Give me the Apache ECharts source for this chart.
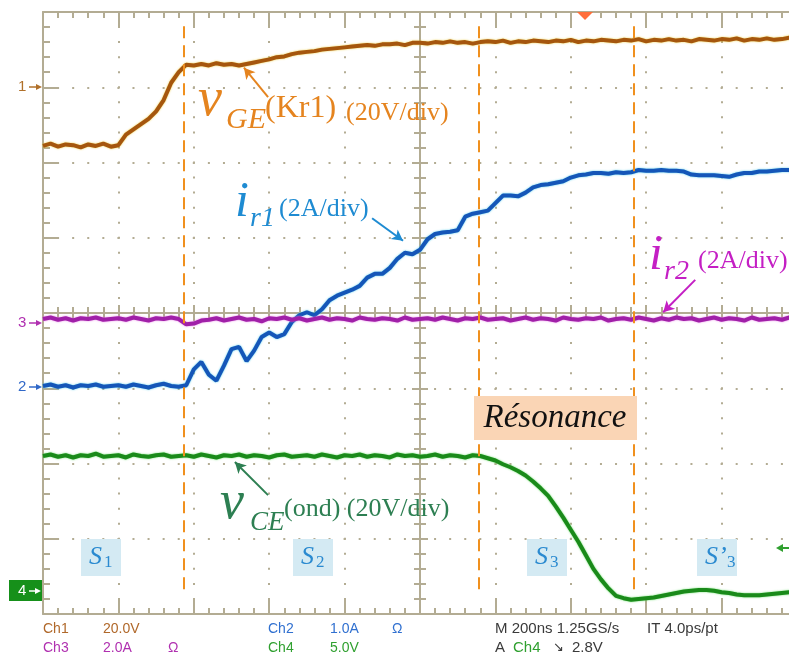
<!DOCTYPE html>
<html>
<head>
<meta charset="utf-8">
<script src="https://cdn.jsdelivr.net/npm/echarts@6/dist/echarts.min.js"></script>
<style>
html,body{margin:0;padding:0;background:#fff;}
#chart{width:789px;height:657px;}
</style>
</head>
<body>
<div id="chart"></div>
<script>
// Time base (ns, 200 ns/div, 0 = screen centre)
const timeNs = [
 -1000,-980,-960,-940,-920,-900,-880,-860,-840,-820,
 -800,-780,-760,-740,-720,-700,-680,-660,-640,-620,
 -600,-580,-560,-540,-520,-500,-480,-460,-440,-420,
 -400,-380,-360,-340,-320,-300,-280,-260,-240,-220,
 -200,-180,-160,-140,-120,-100,-80,-60,-40,-20,
 0,20,40,60,80,100,120,140,160,180,
 200,220,240,260,280,300,320,340,360,380,
 400,420,440,460,480,500,520,540,560,580,
 600,620,640,660,680,700,720,740,760,780,
 800,820,840,860,880,900,920,940,960,980,1000
];
// Traces in screen divisions (0 = centre line)
const vGE = [
 2.22,2.25,2.21,2.24,2.23,2.20,2.24,2.22,2.25,2.21,
 2.23,2.37,2.44,2.51,2.58,2.68,2.83,3.06,3.20,3.30,
 3.29,3.31,3.29,3.32,3.30,3.31,3.29,3.31,3.33,3.35,
 3.37,3.40,3.41,3.44,3.46,3.47,3.48,3.50,3.51,3.52,
 3.53,3.54,3.55,3.56,3.55,3.57,3.57,3.58,3.56,3.59,
 3.59,3.58,3.60,3.59,3.61,3.59,3.60,3.58,3.60,3.61,
 3.60,3.62,3.59,3.61,3.60,3.62,3.61,3.60,3.62,3.61,
 3.63,3.60,3.62,3.61,3.63,3.62,3.61,3.63,3.62,3.64,
 3.61,3.63,3.62,3.64,3.62,3.63,3.61,3.64,3.63,3.62,
 3.64,3.63,3.65,3.62,3.64,3.63,3.65,3.63,3.64,3.66,3.64
];
const iR1 = [
 -0.97,-0.95,-0.98,-0.96,-0.99,-0.96,-0.97,-0.95,-0.98,-0.97,
 -0.96,-0.98,-0.95,-0.97,-0.99,-0.96,-0.94,-0.97,-0.98,-0.96,
 -0.75,-0.65,-0.82,-0.90,-0.70,-0.48,-0.45,-0.64,-0.50,-0.32,
 -0.26,-0.32,-0.28,-0.12,-0.03,0.01,-0.03,0.05,0.17,0.23,
 0.27,0.31,0.36,0.47,0.52,0.52,0.60,0.72,0.80,0.78,
 0.84,0.98,1.05,1.07,1.08,1.10,1.28,1.32,1.34,1.36,
 1.46,1.56,1.56,1.55,1.60,1.67,1.70,1.71,1.73,1.75,
 1.80,1.83,1.84,1.86,1.86,1.85,1.87,1.86,1.87,1.90,
 1.89,1.89,1.90,1.89,1.89,1.88,1.84,1.83,1.83,1.83,
 1.82,1.81,1.84,1.86,1.86,1.88,1.88,1.89,1.90,1.90,1.91
];
const iR2 = [
 -0.08,-0.06,-0.09,-0.07,-0.10,-0.07,-0.08,-0.06,-0.09,-0.08,
 -0.07,-0.09,-0.06,-0.08,-0.10,-0.07,-0.08,-0.06,-0.08,-0.15,
 -0.14,-0.10,-0.09,-0.07,-0.10,-0.08,-0.06,-0.09,-0.08,-0.11,
 -0.07,-0.08,-0.06,-0.09,-0.07,-0.10,-0.08,-0.06,-0.09,-0.07,
 -0.08,-0.10,-0.06,-0.08,-0.09,-0.07,-0.08,-0.10,-0.06,-0.09,
 -0.08,-0.07,-0.09,-0.06,-0.08,-0.10,-0.07,-0.08,-0.06,-0.09,
 -0.08,-0.07,-0.10,-0.08,-0.06,-0.09,-0.07,-0.08,-0.10,-0.06,
 -0.08,-0.09,-0.07,-0.08,-0.06,-0.10,-0.08,-0.07,-0.09,-0.06,
 -0.08,-0.10,-0.07,-0.09,-0.06,-0.08,-0.07,-0.10,-0.08,-0.06,
 -0.09,-0.07,-0.08,-0.10,-0.06,-0.09,-0.08,-0.07,-0.09,-0.06,-0.08
];
const vCE = [
 -1.90,-1.88,-1.91,-1.89,-1.92,-1.89,-1.90,-1.87,-1.91,-1.90,
 -1.89,-1.92,-1.88,-1.90,-1.91,-1.89,-1.88,-1.91,-1.90,-1.89,
 -1.91,-1.88,-1.90,-1.92,-1.89,-1.90,-1.88,-1.91,-1.89,-1.90,
 -1.92,-1.89,-1.88,-1.91,-1.90,-1.89,-1.91,-1.88,-1.90,-1.92,
 -1.89,-1.90,-1.88,-1.91,-1.89,-1.90,-1.92,-1.88,-1.90,-1.89,
 -1.91,-1.90,-1.88,-1.91,-1.89,-1.90,-1.92,-1.89,-1.90,-1.93,
 -1.96,-2.01,-2.05,-2.10,-2.16,-2.24,-2.33,-2.43,-2.57,-2.72,
 -2.88,-3.04,-3.22,-3.40,-3.54,-3.66,-3.76,-3.79,-3.81,-3.80,
 -3.79,-3.78,-3.76,-3.74,-3.72,-3.70,-3.69,-3.68,-3.68,-3.69,
 -3.71,-3.72,-3.74,-3.75,-3.75,-3.75,-3.74,-3.73,-3.72,-3.71,-3.70
];
// Phase boundaries (ns) and their vertical extent (div)
const phaseBoundariesNs = [-626, 156, 568];
const phaseSpanDiv = [-3.75, 3.81];
// Annotation arrows: [fromNs, fromDiv, toNs, toDiv, colour]
const arrows = [
 [-403, 2.87, -467, 3.26, '#E5841F'],
 [-127, 1.26, -45, 0.96, '#1E8BD2'],
 [730, 0.44, 645, 0.01, '#C41FC4'],
 [-403, -2.42, -491, -1.98, '#2D7F52']
];

const GRID = '#B3AC93';
const chart = echarts.init(document.getElementById('chart'), null, {renderer:'canvas'});

function mk(d){ return timeNs.map((t,i)=>[t,d[i]]); }
const dots = (period)=>({show:true,lineStyle:{color:GRID,width:2,type:[2,period-2],dashOffset:1}});

const SERIF = '"Liberation Serif","Times New Roman",serif';
const SANS = '"Liberation Sans",Arial,sans-serif';
function txt(x,y,text,font,fill,sx,align){
  return {type:'text',x:x,y:y,z:50,scaleX:sx||1,
    style:{text:text,font:font,fill:fill,verticalAlign:'middle',align:align||'left'}};
}
function marker(y,label,color){
  return [
    txt(18,y,label,'15px '+SANS,color),
    {type:'line',z:50,shape:{x1:29,y1:y,x2:38,y2:y},style:{stroke:color,lineWidth:1.5}},
    {type:'polygon',z:50,shape:{points:[[36,y-3],[42,y],[36,y+3]]},style:{fill:color}}
  ];
}
function sBox(x,label,sub){
  return [
    {type:'rect',z:40,shape:{x:x,y:539,width:40,height:37},style:{fill:'#D4EAF3'}},
    txt(x+8,557,label,'italic 26px '+SERIF,'#2A8AD0'),
    txt(x+(label.length>1?30:23),563,sub,'17px '+SERIF,'#2A8AD0')
  ];
}

const graphics = [].concat(
  // VGE label
  txt(198,101,'v','italic 54px '+SERIF,'#E5841F'),
  txt(226,120,'GE','italic 30px '+SERIF,'#E5841F'),
  txt(265,109,'(Kr1)','32px '+SERIF,'#E5841F'),
  txt(346,113,'(20V/div)','26px '+SERIF,'#E5841F'),
  // ir1 label
  txt(235,203,'i','italic 50px '+SERIF,'#1E8BD2'),
  txt(250,219,'r1','italic 28px '+SERIF,'#1E8BD2'),
  txt(279,209,'(2A/div)','26px '+SERIF,'#1E8BD2'),
  // ir2 label
  txt(649,256,'i','italic 50px '+SERIF,'#C41FC4'),
  txt(664,272,'r2','italic 28px '+SERIF,'#C41FC4'),
  txt(698,261,'(2A/div)','26px '+SERIF,'#C41FC4'),
  // vCE label
  txt(220,504,'v','italic 54px '+SERIF,'#2D7F52'),
  txt(250,523,'CE','italic 27px '+SERIF,'#2D7F52'),
  txt(284,509,'(ond) (20V/div)','26px '+SERIF,'#2D7F52'),
  // Résonance
  [{type:'rect',z:40,shape:{x:474,y:396,width:163,height:44},style:{fill:'#FAD5B5'}}],
  txt(555,418,'Résonance','italic 33px '+SERIF,'#111',1,'center'),
  sBox(81,'S','1'), sBox(293,'S','2'), sBox(527,'S','3'), sBox(697,'S\u2019','3'),
  // channel markers
  marker(87,'1','#B0702A'), marker(323,'3','#B030B0'), marker(387,'2','#3068C8'),
  [{type:'rect',z:45,shape:{x:9,y:580,width:33,height:21},style:{fill:'#16901A'}}],
  txt(18,591,'4','15px '+SANS,'#fff'),
  [{type:'line',z:50,shape:{x1:29,y1:591,x2:37,y2:591},style:{stroke:'#fff',lineWidth:1.5}},
   {type:'polygon',z:50,shape:{points:[[35,588],[41,591],[35,594]]},style:{fill:'#fff'}}],
  // trigger marker & level
  [{type:'polygon',z:50,shape:{points:[[577,12],[593,12],[585,20]]},style:{fill:'#FF6E3A'}},
   {type:'line',z:50,shape:{x1:781,y1:548,x2:789,y2:548},style:{stroke:'#30A030',lineWidth:2}},
   {type:'polygon',z:50,shape:{points:[[783,544],[776,548],[783,552]]},style:{fill:'#30A030'}}],
  // status text
  txt(43,629,'Ch1','14px '+SANS,'#B0682A'), txt(103,629,'20.0V','14px '+SANS,'#B0682A'),
  txt(268,629,'Ch2','14px '+SANS,'#3070D0'), txt(330,629,'1.0A','14px '+SANS,'#3070D0'), txt(392,629,'\u03A9','14px '+SANS,'#3070D0'),
  txt(495,629,'M 200ns 1.25GS/s','15px '+SANS,'#3A3A3A'), txt(647,629,'IT 4.0ps/pt','15px '+SANS,'#3A3A3A'),
  txt(43,648,'Ch3','14px '+SANS,'#B030B0'), txt(103,648,'2.0A','14px '+SANS,'#B030B0'), txt(168,648,'\u03A9','14px '+SANS,'#B030B0'),
  txt(268,648,'Ch4','14px '+SANS,'#30A030'), txt(330,648,'5.0V','14px '+SANS,'#30A030'),
  txt(495,648,'A','15px '+SANS,'#3A3A3A'), txt(513,648,'Ch4','15px '+SANS,'#30A030'),
  txt(553,648,'\u2198','13px "DejaVu Sans",sans-serif','#3A3A3A'), txt(572,648,'2.8V','15px '+SANS,'#3A3A3A')
);

const axisLine = {show:true,onZero:false,lineStyle:{color:GRID,width:2}};
function trace(color, glow){
  return {color:color,width:4,shadowColor:glow,shadowBlur:2};
}
const option = {
  animation:false,
  backgroundColor:'#fff',
  grid:{left:43,top:12,width:754,height:602,containLabel:false,outerBoundsMode:'none'},
  xAxis:[
    {type:'value',min:-1000,max:1000,interval:200,position:'bottom',axisLine:axisLine,
     axisTick:{show:true,inside:true,length:14,lineStyle:{color:GRID,width:2}},
     minorTick:{show:true,splitNumber:5,length:6,lineStyle:{color:GRID,width:2}},
     axisLabel:{show:false},splitLine:dots(15.05)},
    {type:'value',min:-1000,max:1000,interval:200,position:'top',axisLine:axisLine,
     axisTick:{show:true,inside:true,length:14,lineStyle:{color:GRID,width:2}},
     minorTick:{show:true,splitNumber:5,length:6,lineStyle:{color:GRID,width:2}},
     axisLabel:{show:false},splitLine:{show:false}},
    {type:'value',min:-1000,max:1000,interval:200,position:'bottom',
     axisLine:{show:true,onZero:true,onZeroAxisIndex:0,lineStyle:{color:GRID,width:2}},
     axisTick:{show:true,inside:false,length:8,lineStyle:{color:GRID,width:2}},
     minorTick:{show:true,splitNumber:5,length:6,lineStyle:{color:GRID,width:2}},
     axisLabel:{show:false},splitLine:{show:false}},
    {type:'value',min:-1000,max:1000,interval:200,position:'bottom',
     axisLine:{show:true,onZero:true,onZeroAxisIndex:0,lineStyle:{color:GRID,width:2}},
     axisTick:{show:true,inside:true,length:8,lineStyle:{color:GRID,width:2}},
     minorTick:{show:true,splitNumber:5,length:6,lineStyle:{color:GRID,width:2}},
     axisLabel:{show:false},splitLine:{show:false}}
  ],
  yAxis:[
    {type:'value',min:-4,max:4,interval:1,position:'left',axisLine:axisLine,
     axisTick:{show:true,inside:true,length:15,lineStyle:{color:GRID,width:2}},
     minorTick:{show:true,splitNumber:5,length:7,lineStyle:{color:GRID,width:2}},
     axisLabel:{show:false},splitLine:dots(15.08)},
    {type:'value',min:-4,max:4,interval:1,position:'left',
     axisLine:{show:true,onZero:true,onZeroAxisIndex:0,lineStyle:{color:GRID,width:2}},
     axisTick:{show:true,inside:false,length:8,lineStyle:{color:GRID,width:2}},
     minorTick:{show:true,splitNumber:5,length:6,lineStyle:{color:GRID,width:2}},
     axisLabel:{show:false},splitLine:{show:false}},
    {type:'value',min:-4,max:4,interval:1,position:'left',
     axisLine:{show:true,onZero:true,onZeroAxisIndex:0,lineStyle:{color:GRID,width:2}},
     axisTick:{show:true,inside:true,length:8,lineStyle:{color:GRID,width:2}},
     minorTick:{show:true,splitNumber:5,length:6,lineStyle:{color:GRID,width:2}},
     axisLabel:{show:false},splitLine:{show:false}}
  ],
  series:[
    {name:'vGE',type:'line',data:mk(vGE),showSymbol:false,lineStyle:trace('#A5560E','rgba(235,200,40,0.9)'),z:3},
    {name:'iR1',type:'line',data:mk(iR1),showSymbol:false,lineStyle:trace('#1556B8','rgba(60,200,235,0.9)'),z:3},
    {name:'iR2',type:'line',data:mk(iR2),showSymbol:false,lineStyle:trace('#A020A8','rgba(230,110,230,0.9)'),z:4},
    {name:'vCE',type:'line',data:mk(vCE),showSymbol:false,lineStyle:trace('#1A8A1A','rgba(90,220,90,0.9)'),z:3,
     markLine:{silent:true,symbol:['none','none'],label:{show:false},
       lineStyle:{color:'#F0901E',width:2,type:[12,7],shadowBlur:0},
       data:phaseBoundariesNs.map(t=>[{coord:[t,phaseSpanDiv[1]]},{coord:[t,phaseSpanDiv[0]]}])}},
    {name:'arrows',type:'line',data:[],z:10,
     markLine:{silent:true,symbol:['none','arrow'],symbolSize:[9,11],label:{show:false},
       data:arrows.map(a=>[{coord:[a[0],a[1]],lineStyle:{color:a[4],width:2,type:'solid'},itemStyle:{color:a[4]}},{coord:[a[2],a[3]]}])}}
  ],
  graphic:graphics
};
chart.setOption(option);
</script>
</body>
</html>
